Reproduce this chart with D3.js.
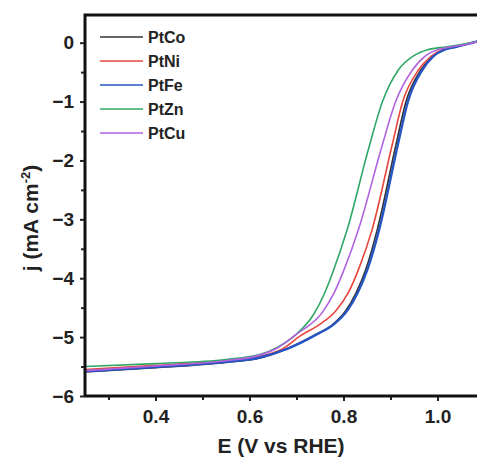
<!DOCTYPE html>
<html>
<head>
<meta charset="utf-8">
<script src="https://cdn.jsdelivr.net/npm/d3@7"></script>
<style>
  body { margin: 0; background: #fff; }
  text { font-family: "Liberation Sans", Arial, sans-serif; font-weight: bold; fill: #222; }
</style>
</head>
<body>
<svg id="svg" width="477" height="463"></svg>
<script>
// LSV curves, [E (V vs RHE), j (mA cm-2)]
var ptco = [[0.25,-5.59],[0.40,-5.52],[0.55,-5.43],[0.62,-5.36],[0.676,-5.21],[0.74,-4.96],[0.776,-4.79],[0.804,-4.56],[0.826,-4.26],[0.847,-3.86],[0.872,-3.17],[0.912,-1.72],[0.933,-1.0],[0.965,-0.46],[0.988,-0.24],[1.013,-0.12],[1.04,-0.07],[1.06,-0.03],[1.085,0.02]];
var ptni = [[0.25,-5.55],[0.40,-5.48],[0.55,-5.40],[0.62,-5.33],[0.67,-5.20],[0.708,-4.98],[0.75,-4.78],[0.783,-4.56],[0.81,-4.25],[0.832,-3.85],[0.861,-3.17],[0.904,-1.72],[0.926,-1.0],[0.96,-0.46],[0.985,-0.24],[1.01,-0.12],[1.04,-0.07],[1.06,-0.03],[1.085,0.02]];
var ptfe = [[0.25,-5.58],[0.40,-5.51],[0.55,-5.42],[0.62,-5.35],[0.68,-5.20],[0.744,-4.95],[0.78,-4.78],[0.808,-4.55],[0.83,-4.25],[0.851,-3.85],[0.876,-3.17],[0.916,-1.72],[0.937,-1.0],[0.968,-0.46],[0.99,-0.24],[1.015,-0.12],[1.04,-0.07],[1.06,-0.03],[1.085,0.02]];
var ptzn = [[0.25,-5.50],[0.40,-5.45],[0.55,-5.38],[0.62,-5.30],[0.66,-5.17],[0.70,-4.95],[0.736,-4.62],[0.76,-4.25],[0.779,-3.86],[0.808,-3.17],[0.853,-1.81],[0.883,-1.0],[0.917,-0.46],[0.95,-0.22],[0.979,-0.12],[1.02,-0.07],[1.05,-0.03],[1.085,0.02]];
var ptcu = [[0.25,-5.57],[0.40,-5.49],[0.55,-5.40],[0.62,-5.31],[0.66,-5.18],[0.70,-4.95],[0.755,-4.58],[0.78,-4.25],[0.80,-3.88],[0.832,-3.17],[0.880,-1.81],[0.911,-1.0],[0.947,-0.46],[0.975,-0.22],[1.0,-0.12],[1.03,-0.07],[1.06,-0.03],[1.085,0.02]];

var names = ["PtCo", "PtNi", "PtFe", "PtZn", "PtCu"];
var colors = ["#333333", "#e8453c", "#2656c4", "#2fa866", "#b062e0"];
var xticks = [0.4, 0.6, 0.8, 1.0];
var yticks = [0, -1, -2, -3, -4, -5, -6];

var series = [ptco, ptni, ptfe, ptzn, ptcu];

var svg = d3.select("#svg");
var m_left = 85, m_top = 15, m_bottom = 396;

var x = d3.scaleLinear().domain([0.25, 1.1]).range([m_left, m_left + 0.85 * 470]);
var y = d3.scaleLinear().domain([-6, 0.47]).range([m_bottom, m_top]);

var plot = svg.append("g");
plot.append("clipPath").attr("id", "clip")
  .append("rect").attr("x", m_left).attr("y", m_top).attr("width", 477 - m_left).attr("height", m_bottom - m_top);

var line = d3.line()
  .x(function (d) { return x(d[0]); })
  .y(function (d) { return y(d[1]); })
  .curve(d3.curveMonotoneX);

series.forEach(function (s, i) {
  plot.append("path")
    .datum(s)
    .attr("clip-path", "url(#clip)")
    .attr("fill", "none")
    .attr("stroke", colors[i])
    .attr("stroke-width", i == 2 ? 2.4 : 1.6)
    .attr("d", line);
});

// axes
var xAxis = d3.axisBottom(x).tickValues(xticks).tickFormat(d3.format(".1f")).tickSize(5).tickPadding(9);
var xMinor = d3.axisBottom(x).tickValues([0.3, 0.5, 0.7, 0.9]).tickFormat("").tickSize(4);
var yAxis = d3.axisLeft(y).tickValues(yticks).tickFormat(d3.format("d")).tickSize(5).tickPadding(6);
var yMinor = d3.axisLeft(y).tickValues([-0.5, -1.5, -2.5, -3.5, -4.5, -5.5]).tickFormat("").tickSize(4);

function style_axis(g) {
  g.select(".domain").remove();
  g.selectAll("line").attr("stroke", "#222").attr("stroke-width", 2);
  g.selectAll("text").style("font-size", "19px").style("font-weight", "bold")
    .style("font-family", "Liberation Sans, Arial, sans-serif").attr("fill", "#222");
}

svg.append("g").attr("transform", "translate(0," + m_bottom + ")").call(xAxis).call(style_axis);
svg.append("g").attr("transform", "translate(0," + m_bottom + ")").call(xMinor).call(style_axis);
svg.append("g").attr("transform", "translate(" + m_left + ",0)").call(yAxis).call(style_axis);
svg.append("g").attr("transform", "translate(" + m_left + ",0)").call(yMinor).call(style_axis);

// frame
svg.append("path")
  .attr("d", "M" + m_left + "," + m_bottom + "V" + m_top + "H477")
  .attr("fill", "none").attr("stroke", "#111").attr("stroke-width", 3);
svg.append("line")
  .attr("x1", m_left).attr("x2", 477).attr("y1", m_bottom).attr("y2", m_bottom)
  .attr("stroke", "#111").attr("stroke-width", 3);

// axis titles
svg.append("text").attr("x", 281).attr("y", 453).attr("text-anchor", "middle")
  .style("font-size", "21px").text("E (V vs RHE)");

var ylab = svg.append("text").attr("transform", "translate(38,218) rotate(-90)")
  .attr("text-anchor", "middle").style("font-size", "21px");
ylab.append("tspan").text("j (mA cm");
ylab.append("tspan").attr("dy", -8).style("font-size", "13px").text("-2");
ylab.append("tspan").attr("dy", 8).text(")");

// legend
var legend = svg.append("g");
names.forEach(function (n, i) {
  var ly = 37 + i * 24;
  legend.append("line").attr("x1", 100).attr("x2", 143).attr("y1", ly).attr("y2", ly)
    .attr("stroke", colors[i]).attr("stroke-width", 2).attr("stroke-opacity", 0.75);
  legend.append("text").attr("x", 148).attr("y", ly + 6).style("font-size", "16px").text(n);
});
</script>
</body>
</html>
